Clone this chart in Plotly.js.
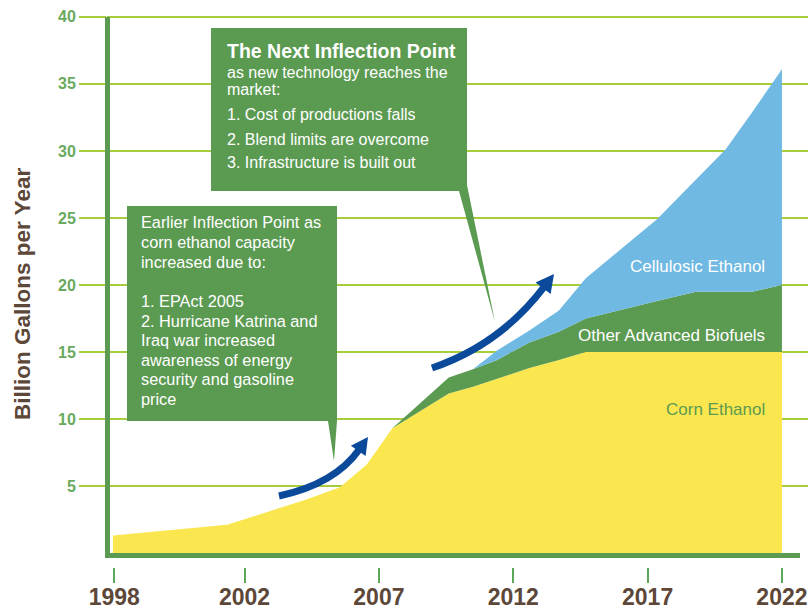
<!DOCTYPE html>
<html>
<head>
<meta charset="utf-8">
<script src="https://cdn.plot.ly/plotly-3.0.1.min.js"></script>
<style>
  html, body { margin: 0; padding: 0; background: #ffffff; }
  #chart { width: 808px; height: 613px; }
</style>
</head>
<body>
<div id="chart"></div>
<script>
// ---- Data ----
// x positions on the chart's year axis
const xPos = [1997.1, 2001.35, 2004.3, 2005.55, 2006.55, 2007.5, 2009.6, 2010.5, 2011.4, 2012.6, 2013.7, 2014.7, 2017.35, 2018.8, 2019.9, 2020.9, 2022];
// billion gallons per year, stacked
const cornEthanol   = [1.3, 2.1, 4.0, 4.9, 6.6, 9.3, 11.9, 12.4, 13.0, 13.8, 14.4, 15.0, 15.0, 15.0, 15.0, 15.0, 15.0];
const otherAdvanced = [0, 0, 0, 0, 0, 0, 1.2, 1.3, 1.4, 1.9, 2.1, 2.5, 3.8, 4.5, 4.5, 4.5, 5.0];
const cellulosic    = [0, 0, 0, 0, 0, 0, 0, 0, 0.7, 0.9, 1.6, 3.0, 6.1, 8.4, 10.6, 13.4, 16.1];

const seriesNames = ['Corn Ethanol', 'Other Advanced Biofuels', 'Cellulosic Ethanol'];
const xTickVals  = [1997.15, 2002, 2007, 2012, 2017, 2022];
const xTickText  = ['1998', '2002', '2007', '2012', '2017', '2022'];
const yTickVals  = [5, 10, 15, 20, 25, 30, 35, 40];
const yTitle = 'Billion Gallons per Year';

const nextInflectionTitle = 'The Next Inflection Point';
const nextInflectionLines = ['as new technology reaches the', 'market:', '1. Cost of productions falls', '2. Blend limits are overcome', '3. Infrastructure is built out'];
const earlierInflectionLines = ['Earlier Inflection Point as', 'corn ethanol capacity', 'increased due to:', '', '1. EPAct 2005', '2. Hurricane Katrina and', 'Iraq war increased', 'awareness of energy', 'security and gasoline', 'price'];

// ---- Styling ----
const W = 808, H = 613;
const M = { l: 107, r: 0, t: 15, b: 46 };
const PW = W - M.l - M.r, PH = H - M.t - M.b;
const px = x => (x - M.l) / PW;          // pixel -> paper x
const py = y => (H - M.b - y) / PH;      // pixel -> paper y
const P = (x, y) => px(x).toFixed(5) + ',' + py(y).toFixed(5);

const YELLOW = '#fae750', GREEN = '#5b9a51', BLUE = '#6fb9e2';
const GRID = '#a8cd3c', BROWN = '#5c4738', TICKGREEN = '#69aa5e', ARROW = '#0b4a9b';
const FONT = 'Liberation Sans, Arial, Helvetica, sans-serif';

const traces = [
  { x: xPos, y: cornEthanol, name: seriesNames[0], stackgroup: 'one', mode: 'lines', line: { width: 0 }, fillcolor: YELLOW },
  { x: xPos, y: otherAdvanced, name: seriesNames[1], stackgroup: 'one', mode: 'lines', line: { width: 0 }, fillcolor: GREEN },
  { x: xPos, y: cellulosic, name: seriesNames[2], stackgroup: 'one', mode: 'lines', line: { width: 0 }, fillcolor: BLUE }
];

function arrowShapes(start, ctrl, tip, len, half) {
  const dx = tip[0] - ctrl[0], dy = tip[1] - ctrl[1];
  const d = Math.hypot(dx, dy), ux = dx / d, uy = dy / d;
  const bx = tip[0] - ux * len, by = tip[1] - uy * len;
  const nx = -uy, ny = ux;
  return [
    { type: 'path', xref: 'paper', yref: 'paper', layer: 'above',
      path: 'M' + P(start[0], start[1]) + ' Q' + P(ctrl[0], ctrl[1]) + ' ' + P(bx + ux * 2, by + uy * 2),
      line: { color: ARROW, width: 7 }, fillcolor: 'rgba(0,0,0,0)' },
    { type: 'path', xref: 'paper', yref: 'paper', layer: 'above',
      path: 'M' + P(tip[0], tip[1]) + ' L' + P(bx + nx * half, by + ny * half) + ' L' + P(bx - nx * half, by - ny * half) + ' Z',
      line: { width: 0 }, fillcolor: ARROW }
  ];
}

const shapes = [
  // callout boxes
  { type: 'path', xref: 'paper', yref: 'paper', layer: 'above', line: { width: 0 }, fillcolor: GREEN,
    path: 'M' + P(211, 28) + ' L' + P(467, 28) + ' L' + P(467, 185) + ' L' + P(495, 322) + ' L' + P(459, 191) + ' L' + P(211, 191) + ' Z' },
  { type: 'path', xref: 'paper', yref: 'paper', layer: 'above', line: { width: 0 }, fillcolor: GREEN,
    path: 'M' + P(127, 206) + ' L' + P(337, 206) + ' L' + P(337, 421) + ' L' + P(334, 461) + ' L' + P(328, 421) + ' L' + P(127, 421) + ' Z' },
  // axis lines
  { type: 'line', xref: 'paper', yref: 'paper', layer: 'above', x0: px(107.5), x1: px(107.5), y0: py(17), y1: py(558), line: { color: GREEN, width: 5 } },
  { type: 'line', xref: 'paper', yref: 'paper', layer: 'above', x0: px(105), x1: px(800), y0: py(555.5), y1: py(555.5), line: { color: GREEN, width: 5 } }
].concat(arrowShapes([279, 496], [335, 484], [368, 437], 17, 9))
 .concat(arrowShapes([432, 368], [500, 345], [554, 274], 18, 9.5));

const annotations = [];
function addText(text, x, y, size, color, bold, anchor, angle) {
  annotations.push({ xref: 'paper', yref: 'paper', x: px(x), y: py(y), xanchor: anchor || 'left', yanchor: 'middle',
    showarrow: false, textangle: angle || 0, text: bold ? '<b>' + text + '</b>' : text, font: { family: FONT, size: size, color: color } });
}
addText(nextInflectionTitle, 225, 51, 19.5, '#ffffff', true);
const nextY = [72, 89, 114, 139, 163];
nextInflectionLines.forEach((t, i) => addText(t, 225, nextY[i], 16, '#ffffff', false));
earlierInflectionLines.forEach((t, i) => { if (t) addText(t, 139, 222.5 + i * 19.6, 16.3, '#ffffff', false); });
addText(seriesNames[2], 767, 266, 17, '#ffffff', false, 'right');
addText(seriesNames[1], 767, 335, 17, '#ffffff', false, 'right');
addText(seriesNames[0], 767, 409, 17, GREEN, false, 'right');
addText(yTitle, 22, 294, 22.5, BROWN, true, 'center', -90);

const layout = {
  width: W, height: H,
  margin: M,
  paper_bgcolor: '#ffffff', plot_bgcolor: '#ffffff',
  showlegend: false,
  hovermode: false,
  xaxis: {
    range: [1996.88, 2022.97], tickmode: 'array', tickvals: xTickVals, ticktext: xTickText,
    showgrid: false, zeroline: false, showline: false,
    ticks: 'outside', ticklen: 15, tickwidth: 2, tickcolor: '#5ca85a', ticklabelstandoff: -6,
    tickfont: { family: FONT, size: 23, color: BROWN, weight: 'bold' }
  },
  yaxis: {
    range: [-1.045, 40.14], tickmode: 'array', tickvals: yTickVals,
    showgrid: true, gridcolor: GRID, gridwidth: 2, zeroline: false, showline: false,
    ticks: 'outside', ticklen: 27, tickwidth: 2, tickcolor: GRID,
    tickfont: { family: FONT, size: 16, color: TICKGREEN, weight: 'bold' }
  },
  shapes: shapes,
  annotations: annotations
};

Plotly.newPlot('chart', traces, layout, { displayModeBar: false, staticPlot: true });
</script>
</body>
</html>
